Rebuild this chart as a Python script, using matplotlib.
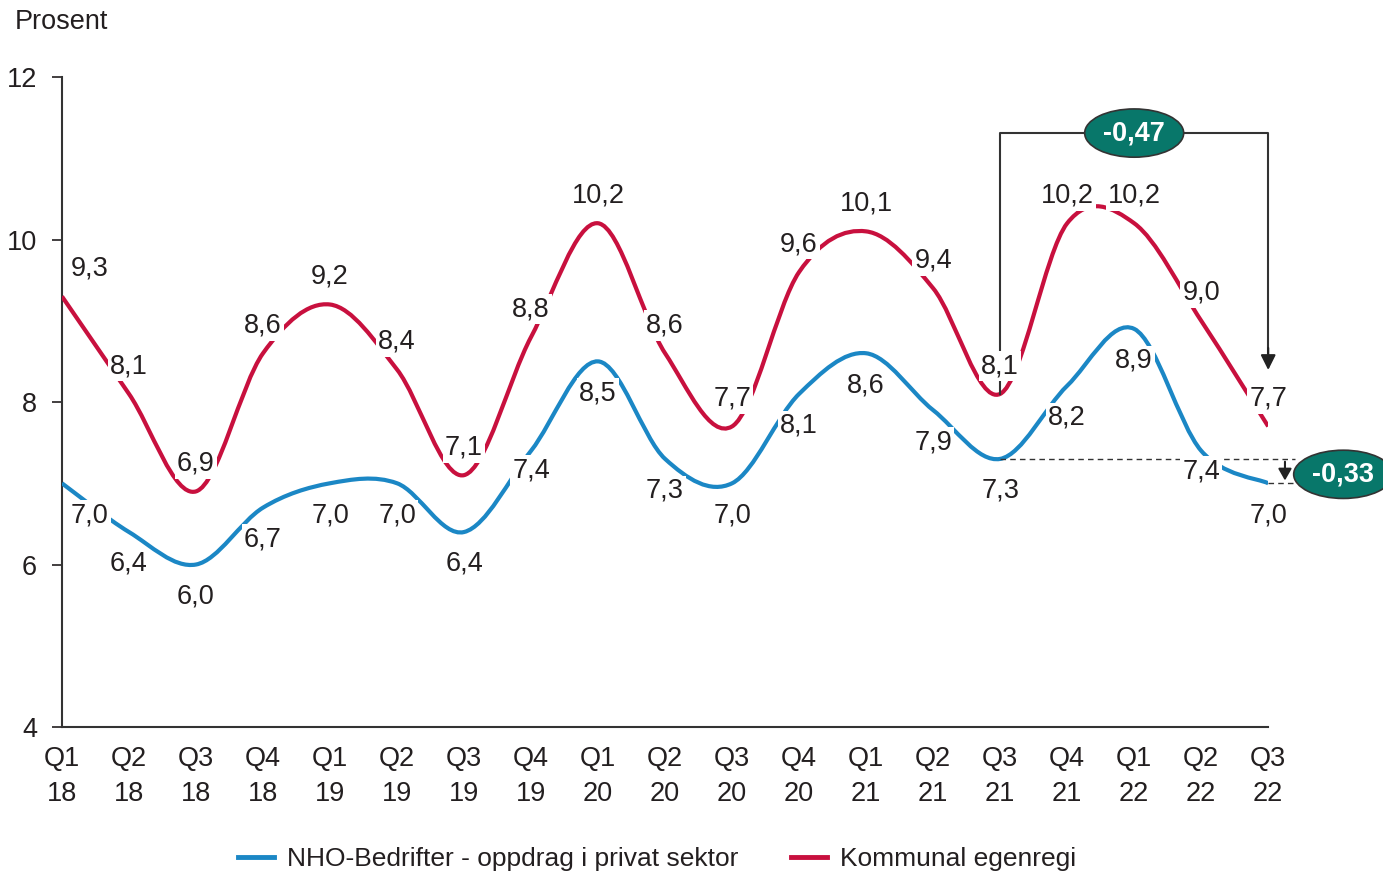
import numpy as np
import matplotlib.pyplot as plt
from matplotlib.path import Path
from matplotlib.patches import PathPatch

plt.rcParams['font.family'] = ['Liberation Sans', 'DejaVu Sans']

quarters = ['Q1', 'Q2', 'Q3', 'Q4', 'Q1', 'Q2', 'Q3', 'Q4', 'Q1', 'Q2', 'Q3', 'Q4',
            'Q1', 'Q2', 'Q3', 'Q4', 'Q1', 'Q2', 'Q3']
years = ['18', '18', '18', '18', '19', '19', '19', '19', '20', '20', '20', '20',
         '21', '21', '21', '21', '22', '22', '22']
nho = [7.0, 6.4, 6.0, 6.7, 7.0, 7.0, 6.4, 7.4, 8.5, 7.3, 7.0, 8.1,
       8.6, 7.9, 7.3, 8.2, 8.9, 7.4, 7.0]
kommunal = [9.3, 8.1, 6.9, 8.6, 9.2, 8.4, 7.1, 8.8, 10.2, 8.6, 7.7, 9.6,
            10.1, 9.4, 8.1, 10.2, 10.2, 9.0, 7.7]
diff_top = '-0,47'
diff_bottom = '-0,33'

BLUE = '#1b87c5'
RED = '#c8103e'
TEAL = '#08776a'
TXT = '#231f20'
FS = 19.5


def smooth_path(xs, ys):
    # catmull-rom style bezier, similar to excel smoothed lines
    pts = np.column_stack([xs, ys]).astype(float)
    n = len(pts)
    verts = [pts[0]]
    codes = [Path.MOVETO]
    for i in range(n - 1):
        p0 = pts[i - 1] if i > 0 else pts[i]
        p1 = pts[i]
        p2 = pts[i + 1]
        p3 = pts[i + 2] if i + 2 < n else pts[i + 1]
        c1 = p1 + (p2 - p0) / 6
        c2 = p2 - (p3 - p1) / 6
        verts += [c1, c2, p2]
        codes += [Path.CURVE4] * 3
    return Path(verts, codes)


fig = plt.figure(figsize=(13.83, 8.73), dpi=100)
ax = fig.add_axes([0.0448, 0.1672, 0.8722, 0.7446])

x = np.arange(len(quarters))
ax.add_patch(PathPatch(smooth_path(x, nho), fc='none', ec=BLUE, lw=3, zorder=3))
ax.add_patch(PathPatch(smooth_path(x, kommunal), fc='none', ec=RED, lw=3, zorder=3))

ax.set_xlim(0, 18)
ax.set_ylim(4, 12)
ax.set_yticks([4, 6, 8, 10, 12])
ax.set_xticks(x)
ax.set_xticklabels([f'{q}\n{y}' for q, y in zip(quarters, years)], linespacing=1.45)
ax.tick_params(axis='x', length=0, pad=14, labelsize=FS, colors=TXT)
ax.tick_params(axis='y', length=7, width=1.2, direction='out', pad=11, labelsize=FS, colors=TXT)
for s in ['top', 'right']:
    ax.spines[s].set_visible(False)
for s in ['left', 'bottom']:
    ax.spines[s].set_color('#333333')
    ax.spines[s].set_linewidth(1.5)

fig.text(0.011, 0.99, 'Prosent', fontsize=FS, color=TXT, va='top')

box = dict(boxstyle='square,pad=0.08', fc='white', ec='none')
blue_off = {7: -14, 17: -15}
for i, (b, r) in enumerate(zip(nho, kommunal)):
    dx = 20 if i == 0 else 0
    ax.annotate(f'{r:.1f}'.replace('.', ','), (i, r), xytext=(dx, 20), textcoords='offset points',
                ha='center', va='center', fontsize=FS, color=TXT, bbox=box, zorder=5)
    ax.annotate(f'{b:.1f}'.replace('.', ','), (i, b), xytext=(dx, blue_off.get(i, -23)),
                textcoords='offset points', ha='center', va='center', fontsize=FS, color=TXT,
                bbox=box, zorder=5)

# bracket Q3 21 -> Q3 22
top_y = 11.31
ax.plot([14, 14, 18, 18], [kommunal[14], top_y, top_y, 8.6], color='#333333', lw=1.5,
        zorder=4, clip_on=False)
ax.annotate('', xy=(18, 8.36), xytext=(18, 8.7),
            arrowprops=dict(arrowstyle='-|>,head_width=0.45,head_length=0.9', color='#222222', lw=1.5),
            zorder=4)
ax.text(16, top_y, diff_top, ha='center', va='center', fontsize=FS, color='white', zorder=6,
        fontweight='bold', bbox=dict(boxstyle='ellipse,pad=0.15', fc=TEAL, ec='#333333', lw=1.2))

# dashed lines and small arrow
ax.plot([14, 18.4], [nho[14], nho[14]], color='#333333', lw=1, ls=(0, (4, 3)), clip_on=False, zorder=4)
ax.plot([18, 18.4], [nho[18], nho[18]], color='#333333', lw=1, ls=(0, (4, 3)), clip_on=False, zorder=4)
ax.annotate('', xy=(18.25, nho[18]), xytext=(18.25, nho[14]),
            arrowprops=dict(arrowstyle='-|>,head_width=0.4,head_length=0.7', color='#222222', lw=1.5),
            annotation_clip=False, zorder=4)
ax.text(19.12, 7.11, diff_bottom, ha='center', va='center', fontsize=FS, color='white', zorder=6,
        fontweight='bold', clip_on=False,
        bbox=dict(boxstyle='ellipse,pad=0.15', fc=TEAL, ec='#333333', lw=1.2))

h1, = ax.plot([], [], color=BLUE, lw=3.5, label='NHO-Bedrifter - oppdrag i privat sektor')
h2, = ax.plot([], [], color=RED, lw=3.5, label='Kommunal egenregi')
leg = fig.legend(handles=[h1, h2], loc='lower center', bbox_to_anchor=(0.475, -0.025), ncol=2,
                 frameon=False, fontsize=19, handlelength=1.35, columnspacing=2.0, handletextpad=0.5)
for t in leg.get_texts():
    t.set_color(TXT)

fig.savefig('out.png', dpi=100)
